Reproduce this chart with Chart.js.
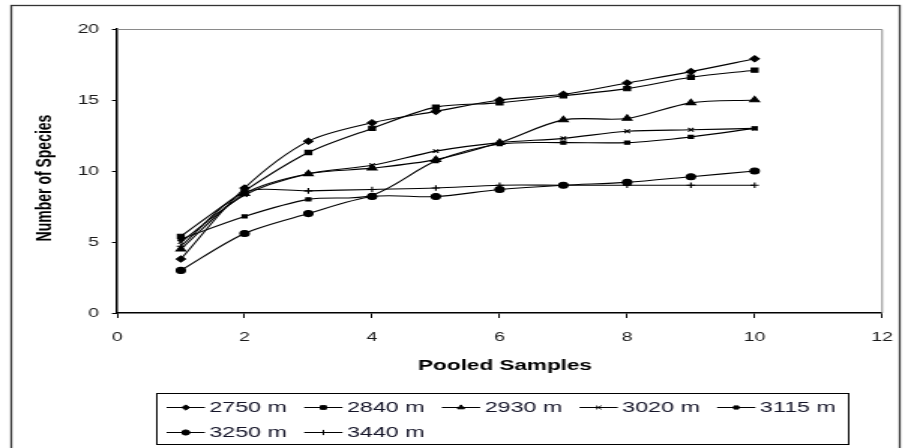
<!DOCTYPE html>
<html>
<head>
<meta charset="utf-8">
<script src="https://cdn.jsdelivr.net/npm/chart.js@4/dist/chart.umd.min.js"></script>
<style>
html, body { margin: 0; padding: 0; background: #fff; overflow: hidden; }
/* drawn narrow and stretched sideways, like the reference image */
#chart { display: block; width: 911px !important; height: 448px !important; }
</style>
</head>
<body>
<canvas id="chart" width="607" height="448"></canvas>
<script>
// Pooled samples (x) and species counts per altitude
const samples = [1, 2, 3, 4, 5, 6, 7, 8, 9, 10];
const s2750 = [3.8, 8.8, 12.1, 13.4, 14.2, 15.0, 15.4, 16.2, 17.0, 17.9];
const s2840 = [5.4, 8.6, 11.3, 13.0, 14.5, 14.8, 15.3, 15.8, 16.6, 17.1];
const s2930 = [4.5, 8.4, 9.8, 10.2, 10.8, 12.0, 13.6, 13.7, 14.8, 15.0];
const s3020 = [5.0, 8.3, 9.8, 10.4, 11.4, 12.0, 12.3, 12.8, 12.9, 13.0];
const s3115 = [5.2, 6.8, 8.0, 8.3, 10.7, 11.9, 12.0, 12.0, 12.4, 13.0];
const s3250 = [3.0, 5.6, 7.0, 8.2, 8.2, 8.7, 9.0, 9.2, 9.6, 10.0];
const s3440 = [4.7, 8.5, 8.6, 8.7, 8.8, 9.0, 9.0, 9.0, 9.0, 9.0];
const seriesLabels = ['2750 m', '2840 m', '2930 m', '3020 m', '3115 m', '3250 m', '3440 m'];
const xTickValues = [0, 2, 4, 6, 8, 10, 12];
const yTickValues = [0, 5, 10, 15, 20];

const font = '"Liberation Sans", Arial, sans-serif';
const markers = [
    { pointStyle: 'rectRot', radius: 3 },
    { pointStyle: 'rect', radius: 3 },
    { pointStyle: 'triangle', radius: 3.6 },
    { pointStyle: 'crossRot', radius: 2.6 },
    { pointStyle: 'rect', radius: 2.2 },
    { pointStyle: 'circle', radius: 3 },
    { pointStyle: 'cross', radius: 2.8 }
];
const allSeries = [s2750, s2840, s2930, s3020, s3115, s3250, s3440];

const datasets = allSeries.map((vals, i) => ({
    label: seriesLabels[i],
    data: samples.map((x, j) => ({ x: x, y: vals[j] })),
    borderColor: '#000',
    backgroundColor: '#000',
    borderWidth: 1.1,
    tension: 0.3,
    pointStyle: markers[i].pointStyle,
    pointRadius: markers[i].radius,
    pointBorderWidth: 1.1,
    pointBackgroundColor: '#000',
    pointBorderColor: '#000'
}));

// frame, axis titles and the boxed legend (legend rows read from the datasets)
const decorPlugin = {
    id: 'decor',
    beforeDraw(chart) {
        const ctx = chart.ctx;
        ctx.save();
        ctx.fillStyle = '#fff';
        ctx.fillRect(0, 0, chart.width, chart.height);
        ctx.strokeStyle = '#333';
        ctx.lineWidth = 1.3;
        ctx.strokeRect(7.5, 5.5, 592, 460);
        ctx.restore();
    },
    beforeDatasetsDraw(chart) {
        const a = chart.chartArea;
        const ctx = chart.ctx;
        ctx.save();
        ctx.strokeStyle = '#8a8a8a';
        ctx.lineWidth = 1;
        ctx.beginPath();
        ctx.moveTo(a.left, a.top + 0.5);
        ctx.lineTo(a.right, a.top + 0.5);
        ctx.lineTo(a.right, a.bottom);
        ctx.stroke();
        ctx.restore();
    },
    afterDraw(chart) {
        const ctx = chart.ctx;
        ctx.save();
        ctx.fillStyle = '#000';
        ctx.textAlign = 'center';
        ctx.textBaseline = 'middle';
        ctx.font = 'bold 15px ' + font;
        ctx.fillText('Pooled Samples', 336.5, 366);
        ctx.translate(30, 178);
        ctx.rotate(-Math.PI / 2);
        ctx.font = 'bold 14px ' + font;
        ctx.fillText('Number of Species', 0, 0);
        ctx.restore();

        // legend box
        ctx.save();
        ctx.strokeStyle = '#000';
        ctx.lineWidth = 1;
        ctx.strokeRect(104.5, 393.5, 461, 51);
        ctx.font = '15.5px ' + font;
        ctx.textAlign = 'left';
        ctx.textBaseline = 'middle';
        chart.data.datasets.forEach((ds, i) => {
            const col = i % 5;
            const row = Math.floor(i / 5);
            const x0 = 111 + col * 91.7;
            const y = 407.5 + row * 25;
            ctx.strokeStyle = '#000';
            ctx.fillStyle = '#000';
            ctx.lineWidth = 1;
            ctx.beginPath();
            ctx.moveTo(x0, y);
            ctx.lineTo(x0 + 25.5, y);
            ctx.stroke();
            Chart.helpers.drawPoint(ctx, {
                pointStyle: ds.pointStyle,
                radius: Math.min(ds.pointRadius, 2.6),
                rotation: 0,
                borderWidth: 1
            }, x0 + 12.75, y);
            ctx.fillStyle = '#141428';
            ctx.fillText(ds.label, x0 + 28.5, y + 0.5);
        });
        ctx.restore();
    }
};

new Chart(document.getElementById('chart'), {
    type: 'line',
    data: { datasets: datasets },
    plugins: [decorPlugin],
    options: {
        responsive: false,
        animation: false,
        devicePixelRatio: 1,
        layout: { padding: { left: 0, top: 29, right: 12.3, bottom: 0 } },
        plugins: {
            legend: { display: false },
            tooltip: { enabled: false }
        },
        scales: {
            x: {
                type: 'linear',
                min: 0,
                max: 12,
                afterBuildTicks: s => { s.ticks = xTickValues.map(v => ({ value: v })); },
                afterFit: s => { s.height = 135; },
                grid: { drawOnChartArea: false, drawTicks: true, tickLength: 5, color: '#000', lineWidth: 1 },
                border: { display: true, color: '#000', width: 1.5 },
                ticks: {
                    color: '#1a1a1a',
                    font: { family: font, size: 13 },
                    padding: 12,
                    maxRotation: 0,
                    autoSkip: false
                }
            },
            y: {
                type: 'linear',
                min: 0,
                max: 20,
                afterBuildTicks: s => { s.ticks = yTickValues.map(v => ({ value: v })); },
                afterFit: s => { s.width = 78; },
                grid: { drawOnChartArea: false, drawTicks: true, tickLength: 3.4, color: '#000', lineWidth: 1 },
                border: { display: true, color: '#000', width: 1.5 },
                ticks: {
                    color: '#1a1a1a',
                    font: { family: font, size: 13 },
                    padding: 8.5
                }
            }
        }
    }
});
</script>
</body>
</html>
